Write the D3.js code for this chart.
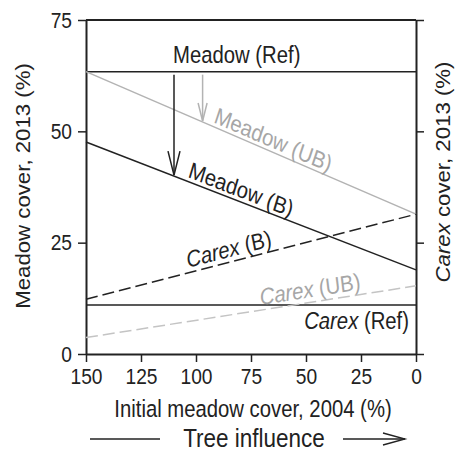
<!DOCTYPE html>
<html><head><meta charset="utf-8">
<script src="https://cdn.jsdelivr.net/npm/d3@7"></script>
<style>body{margin:0;background:#fff} text{font-family:"Liberation Sans",Arial,Helvetica,sans-serif}</style>
</head><body><svg id="c" width="460" height="453"></svg>
<script>
const xTicks=[150,125,100,75,50,25,0];
const yTicks=[0,25,50,75];
const xEnds=[150,0];
const meadowRef=[63.4,63.4];
const meadowUB=[63.4,31.4];
const meadowB=[47.6,18.9];
const carexRef=[11,11];
const carexUB=[3.7,15.3];
const carexB=[12.3,31.4];
const arrowBlackX=110, arrowGreyX=97;

const svg=d3.select("#c");
const W=460,H=453,ml=86,mr=44,mt=20,mb=99;
const x=d3.scaleLinear().domain([150,0]).range([ml,W-mr]);
const y=d3.scaleLinear().domain([0,75]).range([H-mb,mt]);
const S=1.14; // vertical text stretch seen in reference
const FS=20.3, TFS=19.2;
const black="#222", grey="#b3b3b3", greyT="#a6a6a6";

function interp(vals,xv){return vals[0]+(vals[1]-vals[0])*(xEnds[0]-xv)/(xEnds[0]-xEnds[1]);}

// axes
const gl=svg.append("g").attr("transform",`translate(${ml},0)`)
  .call(d3.axisLeft(y).tickValues(yTicks).tickSize(8).tickSizeOuter(0).tickPadding(6));
const gb=svg.append("g").attr("transform",`translate(0,${H-mb})`)
  .call(d3.axisBottom(x).tickValues(xTicks).tickSize(8).tickSizeOuter(0).tickPadding(5));
const gr=svg.append("g").attr("transform",`translate(${W-mr},0)`)
  .call(d3.axisRight(y).tickValues(yTicks).tickFormat("").tickSize(8).tickSizeOuter(0));
[gl,gb,gr].forEach(g=>{
  g.selectAll("path.domain").attr("stroke",black).attr("stroke-width",2);
  g.selectAll(".tick line").attr("stroke",black).attr("stroke-width",1.5);
  g.selectAll(".tick text").attr("font-size",TFS).attr("fill",black)
    .attr("transform",`scale(1,${S})`)
    .style("font-family",'"Liberation Sans",Arial,sans-serif');
});
svg.append("line").attr("x1",x(150)).attr("x2",x(0)).attr("y1",y(75)).attr("y2",y(75))
  .attr("stroke",black).attr("stroke-width",2);

// lines
function drawLine(vals,color,dash){
  svg.append("line").attr("x1",x(xEnds[0])).attr("x2",x(xEnds[1]))
    .attr("y1",y(vals[0])).attr("y2",y(vals[1]))
    .attr("stroke",color).attr("stroke-width",1.5)
    .attr("stroke-dasharray",dash||null);
}
drawLine(meadowRef,black);
drawLine(meadowUB,grey);
drawLine(meadowB,black);
drawLine(carexRef,black);
drawLine(carexUB,"#c4c4c4","12,5");
drawLine(carexB,black,"12,5");

// arrows
function vArrow(xv,from,to,color,len,hw){
  const px=x(xv),y1=y(from)+3,y2=y(to)-1;
  svg.append("line").attr("x1",px).attr("x2",px).attr("y1",y1).attr("y2",y2).attr("stroke",color).attr("stroke-width",1.5);
  svg.append("path").attr("d",`M${px-hw},${y2-len}L${px},${y2}L${px+hw},${y2-len}`)
    .attr("fill","none").attr("stroke",color).attr("stroke-width",1.5);
}
vArrow(arrowBlackX,meadowRef[0],interp(meadowB,arrowBlackX),black,24,6);
vArrow(arrowGreyX,meadowRef[0],interp(meadowUB,arrowGreyX),grey,18,4.5);

// text helper
function txt(tx,ty,rot,parts,opts){
  const t=svg.append("text")
    .attr("transform",`translate(${tx},${ty}) scale(1,${S}) rotate(${rot})`)
    .attr("y",opts.dy||0).attr("text-anchor",opts.anchor||"middle")
    .attr("font-size",opts.fs||FS).attr("fill",opts.color||black);
  parts.forEach(p=>t.append("tspan").text(p[0]).attr("font-style",p[1]?"italic":"normal"));
  return t;
}
function lineLabel(vals,xv,parts,color,off){
  const px=x(xv),py=y(interp(vals,xv));
  const dx=x(xEnds[1])-x(xEnds[0]), dy=(y(vals[1])-y(vals[0]))/S;
  const ang=Math.atan2(dy,dx)*180/Math.PI;
  txt(px,py,ang,parts,{color:color,dy:-off});
}
lineLabel(meadowUB,66.5,[["Meadow (UB)",0]],greyT,3.5);
lineLabel(meadowB,81,[["Meadow (B)",0]],black,3.5);
lineLabel(carexB,84,[["Carex",1],[" (B)",0]],black,4.5);
lineLabel(carexUB,47.5,[["Carex",1],[" (UB)",0]],greyT,4.5);

txt(x(81.5),y(meadowRef[0])-9,0,[["Meadow (Ref)",0]],{});
txt(x(0)-7,y(carexRef[0])+24,0,[["Carex",1],[" (Ref)",0]],{anchor:"end"});

// axis titles
txt(30,186,-90,[["Meadow cover, 2013 (%)",0]],{fs:19.5});
txt(450,172,-90,[["Carex",1],[" cover, 2013 (%)",0]],{fs:19.5});
txt(253,417,0,[["Initial meadow cover, 2004 (%)",0]],{});
txt(254,447,0,[["Tree influence",0]],{fs:22.5});
svg.append("line").attr("x1",90).attr("x2",160).attr("y1",439).attr("y2",439).attr("stroke",black).attr("stroke-width",1.3);
svg.append("line").attr("x1",343).attr("x2",405).attr("y1",439).attr("y2",439).attr("stroke",black).attr("stroke-width",1.3);
svg.append("path").attr("d","M383,433L405,439L383,445").attr("fill","none").attr("stroke",black).attr("stroke-width",1.3);
</script></body></html>
